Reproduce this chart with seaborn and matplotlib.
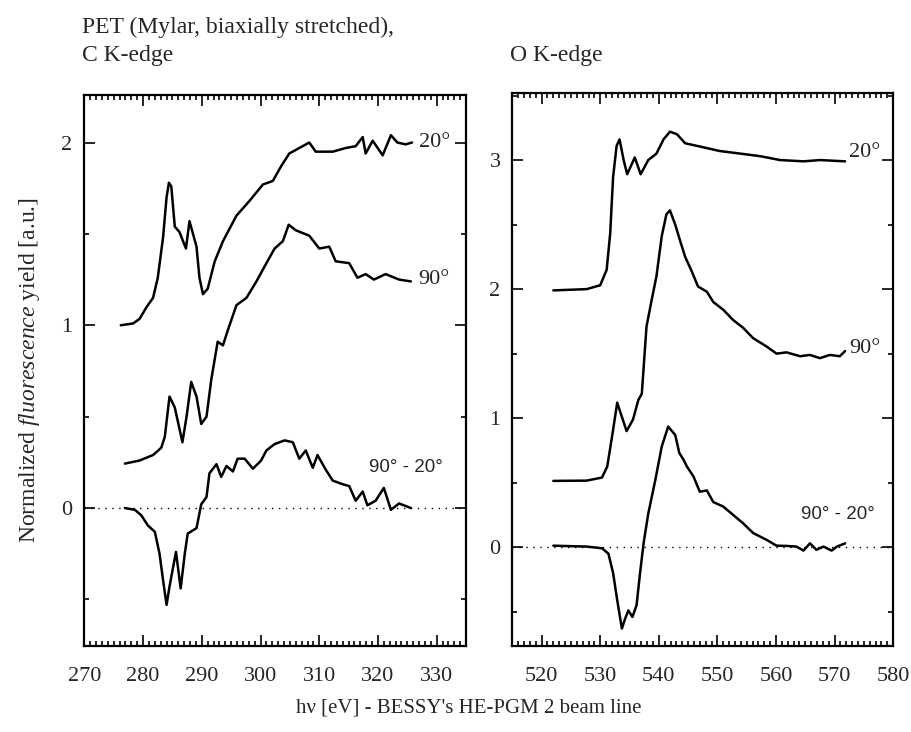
import matplotlib
matplotlib.use("Agg")
import matplotlib.pyplot as plt
import seaborn as sns
import pandas as pd
from matplotlib.ticker import MultipleLocator

# ---------------- data ----------------
# C K-edge, 20 deg
c20_e = [276.2, 278.3, 279.4, 280.6, 281.7, 282.5, 283.4, 284.0, 284.4, 284.8, 285.4, 286.2,
         287.3, 287.9, 289.1, 289.6, 290.2, 291.0, 292.2, 293.6, 295.9, 298.1, 300.4, 302.1,
         303.5, 304.9, 306.6, 308.3, 309.4, 312.3, 314.5, 316.2, 317.4, 317.9, 319.1, 320.8,
         322.2, 323.3, 324.7, 325.8]
c20_y = [1.00, 1.01, 1.035, 1.10, 1.15, 1.26, 1.48, 1.70, 1.78, 1.76, 1.54, 1.51,
         1.42, 1.57, 1.43, 1.26, 1.17, 1.20, 1.35, 1.46, 1.60, 1.68, 1.77, 1.79,
         1.87, 1.94, 1.97, 2.00, 1.95, 1.95, 1.97, 1.98, 2.03, 1.94, 2.01, 1.93,
         2.04, 2.00, 1.99, 2.00]
# C K-edge, 90 deg
c90_e = [276.9, 279.4, 281.7, 283.1, 283.7, 284.5, 285.4, 286.7, 287.4, 288.2, 289.1, 289.9,
         290.8, 291.6, 292.7, 293.6, 294.4, 295.9, 297.6, 299.3, 301.0, 302.4, 303.8, 304.8,
         306.0, 308.3, 310.0, 311.7, 312.8, 315.1, 316.5, 317.9, 319.3, 321.3, 323.6, 325.6]
c90_y = [0.243, 0.26, 0.29, 0.33, 0.39, 0.61, 0.55, 0.36, 0.50, 0.69, 0.61, 0.46,
         0.50, 0.70, 0.91, 0.89, 0.97, 1.11, 1.15, 1.24, 1.34, 1.42, 1.46, 1.55,
         1.52, 1.49, 1.42, 1.43, 1.35, 1.34, 1.26, 1.28, 1.25, 1.28, 1.25, 1.24]
# C K-edge, 90 - 20 deg
cd_e = [276.9, 278.6, 279.7, 280.8, 282.0, 282.8, 283.4, 284.0, 284.5, 285.6, 286.4, 287.1,
        287.6, 289.1, 289.9, 290.8, 291.3, 292.5, 293.3, 294.2, 295.3, 296.1, 297.3, 298.7,
        300.1, 301.0, 302.4, 304.1, 305.5, 306.6, 307.7, 308.9, 309.7, 311.1, 312.3, 314.0,
        315.1, 316.2, 317.4, 318.2, 319.6, 321.0, 322.2, 323.6, 325.6]
cd_y = [0.0, -0.01, -0.04, -0.095, -0.13, -0.25, -0.395, -0.53, -0.43, -0.24, -0.44, -0.25,
        -0.14, -0.11, 0.02, 0.06, 0.19, 0.24, 0.17, 0.23, 0.20, 0.27, 0.27, 0.215,
        0.26, 0.315, 0.35, 0.37, 0.36, 0.27, 0.315, 0.22, 0.29, 0.21, 0.15, 0.13,
        0.12, 0.04, 0.09, 0.015, 0.04, 0.11, -0.01, 0.025, 0.0]

# O K-edge, 20 deg
o20_e = [522.0, 527.7, 530.0, 531.1, 531.7, 532.2, 532.8, 533.3, 534.0, 534.6, 535.9, 536.9,
         538.2, 539.6, 540.8, 541.9, 543.1, 544.5, 547.0, 550.4, 553.9, 557.3, 560.7, 564.7,
         567.5, 571.8]
o20_y = [1.99, 2.00, 2.03, 2.15, 2.43, 2.87, 3.11, 3.16, 3.00, 2.89, 3.02, 2.89,
         3.00, 3.05, 3.16, 3.22, 3.20, 3.13, 3.105, 3.07, 3.05, 3.03, 3.00, 2.99,
         3.00, 2.99]
# O K-edge, 90 deg
o90_e = [522.0, 527.7, 530.3, 531.2, 532.2, 532.9, 533.7, 534.5, 535.6, 536.5, 537.1, 537.9,
         538.8, 539.6, 540.5, 541.3, 541.9, 542.8, 543.6, 544.5, 545.6, 546.7, 548.2, 549.3,
         551.0, 552.7, 554.4, 556.1, 558.4, 560.1, 561.8, 564.1, 565.8, 567.5, 569.2, 570.9,
         571.8]
o90_y = [0.514, 0.516, 0.54, 0.625, 0.91, 1.12, 1.01, 0.90, 0.99, 1.14, 1.19, 1.71,
         1.92, 2.10, 2.41, 2.58, 2.61, 2.50, 2.38, 2.25, 2.14, 2.02, 1.98, 1.90,
         1.84, 1.76, 1.70, 1.62, 1.555, 1.50, 1.51, 1.48, 1.49, 1.465, 1.49, 1.48,
         1.52]
# O K-edge, 90 - 20 deg
od_e = [522.0, 527.7, 530.3, 531.4, 532.2, 532.9, 533.7, 534.2, 534.8, 535.5, 536.2, 536.8,
        537.4, 538.2, 539.4, 540.5, 541.6, 542.8, 543.5, 544.2, 544.8, 545.9, 547.0, 548.2,
        549.3, 551.0, 552.7, 554.4, 556.1, 558.4, 560.1, 561.8, 563.5, 564.7, 565.8, 566.9,
        568.1, 569.5, 570.4, 571.8]
od_y = [0.012, 0.005, -0.008, -0.05, -0.20, -0.41, -0.63, -0.56, -0.49, -0.54, -0.45, -0.20,
        0.03, 0.26, 0.52, 0.78, 0.935, 0.87, 0.73, 0.68, 0.625, 0.55, 0.43, 0.44,
        0.35, 0.315, 0.25, 0.185, 0.11, 0.057, 0.012, 0.01, 0.005, -0.026, 0.03, -0.02,
        0.005, -0.026, 0.005, 0.03]

# curve labels
c_labels = ["20°", "90°", "90° - 20°"]
c_label_pos = [(329.6, 2.0), (329.6, 1.25), (324.8, 0.22)]
o_labels = ["20°", "90°", "90° - 20°"]
o_label_pos = [(575.2, 3.06), (575.2, 1.54), (570.6, 0.25)]

c_xticks = [270, 280, 290, 300, 310, 320, 330]
c_yticks = [0, 1, 2]
o_xticks = [520, 530, 540, 550, 560, 570, 580]
o_yticks = [0, 1, 2, 3]

# ---------------- figure ----------------
sns.set_style("ticks")
plt.rcParams['font.family'] = ['Liberation Serif', 'DejaVu Serif']
plt.rcParams['mathtext.fontset'] = 'custom'
plt.rcParams['mathtext.rm'] = 'Liberation Serif'
plt.rcParams['mathtext.it'] = 'Liberation Serif:italic'

fig = plt.figure(figsize=(9.11, 7.32), dpi=100)
axL = fig.add_axes([0.0926, 0.1175, 0.419, 0.7527])
axR = fig.add_axes([0.5624, 0.1179, 0.418, 0.7546])


def draw(ax, series, xlim, ylim, xticks, yticks, labels, label_pos):
    ax.axhline(0, color='black', lw=1.0, ls=(0, (1, 4)), zorder=1)
    for e, y in series:
        df = pd.DataFrame({"E": e, "I": y})
        sns.lineplot(data=df, x="E", y="I", ax=ax, sort=False, estimator=None,
                     color='black', lw=1.8, zorder=3)
    ax.set_xlim(*xlim)
    ax.set_ylim(*ylim)
    ax.set_xlabel("")
    ax.set_ylabel("")
    ax.set_xticks(xticks)
    ax.xaxis.set_minor_locator(MultipleLocator(1))
    ax.set_yticks(yticks)
    ax.yaxis.set_minor_locator(MultipleLocator(0.5))
    ax.tick_params(which='both', direction='in', top=True, right=True,
                   labelsize=16, width=1.2, color='black')
    ax.tick_params(axis='x', pad=15)
    ax.tick_params(axis='y', pad=8.5)
    ax.tick_params(which='major', length=8)
    ax.tick_params(which='minor', length=3.5)
    for s in ax.spines.values():
        s.set_linewidth(1.6)
        s.set_color('black')
    for i, (txt, (x, y)) in enumerate(zip(labels, label_pos)):
        if i == 2:
            ax.text(x, y, txt, ha='center', va='center', fontsize=13.5,
                    family=['Liberation Sans', 'DejaVu Sans'])
        else:
            ax.text(x, y, txt, ha='center', va='center', fontsize=16)


draw(axL, [(c20_e, c20_y), (c90_e, c90_y), (cd_e, cd_y)], (270, 335), (-0.755, 2.26),
     c_xticks, c_yticks, c_labels, c_label_pos)
draw(axR, [(o20_e, o20_y), (o90_e, o90_y), (od_e, od_y)], (515, 580), (-0.763, 3.517),
     o_xticks, o_yticks, o_labels, o_label_pos)

fig.text(82 / 911, 1 - 27 / 732, "PET (Mylar, biaxially stretched),", fontsize=17,
         ha='left', va='center')
fig.text(82 / 911, 1 - 56 / 732, "C K-edge", fontsize=17, ha='left', va='center')
fig.text(510 / 911, 1 - 56 / 732, "O K-edge", fontsize=17, ha='left', va='center')

fig.text(30 / 911, 1 - 370 / 732, r"Normalized $\mathit{fluorescence}$ yield [a.u.]",
         rotation=90, fontsize=17, ha='center', va='center')
fig.text(469 / 911, 1 - 708 / 732, "hν [eV] - BESSY's HE-PGM 2 beam line",
         fontsize=15, ha='center', va='center')

fig.savefig("out.png", dpi=100)
